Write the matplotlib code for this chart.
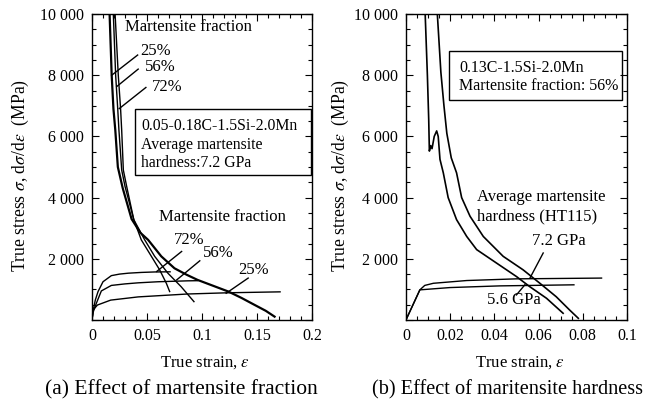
import matplotlib
matplotlib.use('Agg')
import matplotlib.pyplot as plt
from matplotlib.patches import Rectangle
from matplotlib.ticker import MultipleLocator, FuncFormatter

plt.rcParams['font.family'] = ['Liberation Serif', 'DejaVu Serif']
plt.rcParams['mathtext.fontset'] = 'stix'

# --- (a) martensite fraction: flow curves
a72_x = [0, 0.001, 0.003, 0.0055, 0.010, 0.0176, 0.025, 0.033, 0.045, 0.057, 0.071]
a72_y = [0, 300, 650, 930, 1250, 1450, 1500, 1530, 1555, 1570, 1575]
a56_x = [0, 0.001, 0.004, 0.0085, 0.0176, 0.03, 0.042, 0.06, 0.087, 0.096]
a56_y = [0, 250, 550, 950, 1130, 1180, 1215, 1250, 1280, 1285]
a25_x = [0, 0.001, 0.005, 0.017, 0.042, 0.087, 0.124, 0.171]
a25_y = [0, 330, 490, 650, 755, 850, 890, 920]

# --- (a) work hardening rate dσ/dε
h25_x = [0.0160, 0.0179, 0.0195, 0.0212, 0.0235, 0.028, 0.036, 0.044, 0.051, 0.063, 0.075, 0.086, 0.096, 0.110, 0.124, 0.136, 0.148, 0.158, 0.166]
h25_y = [10000, 8000, 6900, 6200, 5000, 4300, 3300, 2850, 2620, 2080, 1690, 1480, 1310, 1120, 930, 720, 490, 300, 110]
h56_x = [0.0194, 0.0215, 0.0234, 0.0245, 0.027, 0.030, 0.038, 0.0479, 0.057, 0.069, 0.081, 0.0927]
h56_y = [10000, 8000, 6900, 6200, 4900, 4370, 3280, 2620, 2080, 1530, 1090, 600]
h72_x = [0.0210, 0.0239, 0.026, 0.027, 0.0285, 0.0315, 0.038, 0.0448, 0.054, 0.0615, 0.0676, 0.0706]
h72_y = [10000, 8000, 6900, 6200, 4900, 4370, 3280, 2620, 2080, 1640, 1200, 930]

# --- (b) martensite hardness: flow curves
b72_x = [0, 0.0063, 0.0085, 0.0124, 0.0275, 0.050, 0.0885]
b72_y = [0, 985, 1130, 1200, 1290, 1345, 1370]
b56_x = [0, 0.0063, 0.0199, 0.0425, 0.076]
b56_y = [0, 985, 1060, 1115, 1150]

# --- (b) work hardening rate
g56_x = [0.0087, 0.0097, 0.0103, 0.0106, 0.0112, 0.0118, 0.0128, 0.0139, 0.0146, 0.0154, 0.0169, 0.0191,
         0.0229, 0.0275, 0.032, 0.041, 0.050, 0.056, 0.0636, 0.0711]
g56_y = [10000, 8000, 6560, 5520, 5700, 5600, 6000, 6180, 6000, 5250, 4810, 4000,
         3280, 2730, 2300, 1860, 1420, 1090, 710, 220]
g72_x = [0.0142, 0.0158, 0.0172, 0.0185, 0.0205, 0.0229, 0.0252, 0.029, 0.035, 0.044, 0.053, 0.0606, 0.068, 0.074, 0.078]
g72_y = [10000, 8100, 7000, 6100, 5300, 4810, 4000, 3390, 2730, 2080, 1640, 1200, 760, 330, 55]

fig = plt.figure(figsize=(6.59, 4.01), dpi=100)
axa = fig.add_axes([0.1396, 0.202, 0.3338, 0.763])
axb = fig.add_axes([0.616, 0.202, 0.3354, 0.763])

lw = 1.0
for x, y in [(a72_x, a72_y), (a56_x, a56_y), (a25_x, a25_y),
             (h56_x, h56_y), (h72_x, h72_y)]:
    axa.plot(x, y, color='black', lw=lw)
axa.plot(h25_x, h25_y, color='black', lw=1.6)
for x, y in [(b72_x, b72_y), (b56_x, b56_y)]:
    axb.plot(x, y, color='black', lw=lw)
for x, y in [(g56_x, g56_y), (g72_x, g72_y)]:
    axb.plot(x, y, color='black', lw=1.2)

yfmt = FuncFormatter(lambda v, p: '' if v == 0 else '{:,.0f}'.format(v).replace(',', ' '))
xfmt = FuncFormatter(lambda v, p: '0' if v == 0 else ('%g' % round(v, 3)))

for ax, xmax, xmaj, xmin in [(axa, 0.2, 0.05, 0.01), (axb, 0.1, 0.02, 0.005)]:
    ax.set_xlim(0, xmax)
    ax.set_ylim(0, 10000)
    ax.xaxis.set_major_locator(MultipleLocator(xmaj))
    ax.xaxis.set_minor_locator(MultipleLocator(xmin))
    ax.yaxis.set_major_locator(MultipleLocator(2000))
    ax.yaxis.set_minor_locator(MultipleLocator(500))
    ax.yaxis.set_major_formatter(yfmt)
    ax.xaxis.set_major_formatter(xfmt)
    ax.tick_params(which='both', direction='in', top=True, right=True, labelsize=11.5, width=0.8)
    ax.tick_params(which='major', length=5, pad=6)
    ax.tick_params(which='minor', length=3)
    for s in ax.spines.values():
        s.set_linewidth(1.0)

# annotations, panel (a)
fs = 12
bfs = 11.3
axa.text(0.030, 9575, 'Martensite fraction', fontsize=fs, va='center')
axa.text(0.0436, 8790, '25%', fontsize=fs, va='center')
axa.text(0.048, 8260, '56%', fontsize=fs, va='center')
axa.text(0.054, 7600, '72%', fontsize=fs, va='center')
axa.plot([0.0415, 0.0179], [8660, 8000], color='black', lw=1.0)
axa.plot([0.042, 0.0225], [8200, 7630], color='black', lw=1.0)
axa.plot([0.049, 0.0248], [7600, 6910], color='black', lw=1.0)

axa.add_patch(Rectangle((0.039, 4755), 0.1605, 2131, fill=False, lw=1.0, edgecolor='black'))
axa.text(0.045, 6330, '0.05-0.18C-1.5Si-2.0Mn', fontsize=bfs, va='center')
axa.text(0.045, 5710, 'Average martensite', fontsize=bfs, va='center')
axa.text(0.045, 5130, 'hardness:7.2 GPa', fontsize=bfs, va='center')

axa.text(0.0612, 3370, 'Martensite fraction', fontsize=fs, va='center')
axa.text(0.074, 2620, '72%', fontsize=fs, va='center')
axa.text(0.101, 2190, '56%', fontsize=fs, va='center')
axa.text(0.133, 1640, '25%', fontsize=fs, va='center')
axa.plot([0.0815, 0.0588], [2240, 1585], color='black', lw=1.0)
axa.plot([0.098, 0.077], [1935, 1310], color='black', lw=1.0)
axa.plot([0.142, 0.122], [1370, 875], color='black', lw=1.0)

# annotations, panel (b)
axb.add_patch(Rectangle((0.0196, 7190), 0.078, 1610, fill=False, lw=1.0, edgecolor='black'))
axb.text(0.0241, 8250, '0.13C-1.5Si-2.0Mn', fontsize=bfs + 0.2, va='center')
axb.text(0.0241, 7650, 'Martensite fraction: 56%', fontsize=bfs + 0.2, va='center')
axb.text(0.032, 4030, 'Average martensite', fontsize=fs, va='center')
axb.text(0.032, 3380, 'hardness (HT115)', fontsize=fs, va='center')
axb.text(0.0569, 2570, '7.2 GPa', fontsize=fs, va='center')
axb.text(0.0365, 655, '5.6 GPa', fontsize=fs, va='center')
axb.plot([0.0621, 0.0561], [2190, 1370], color='black', lw=1.0)
axb.plot([0.0538, 0.050], [1150, 820], color='black', lw=1.0)

ylab = r'True stress $\sigma$, d$\sigma$/d$\varepsilon$  (MPa)'
fig.text(20 / 659, 1 - 175 / 401, ylab, rotation=90, ha='center', va='center', fontsize=12.7)
fig.text(340 / 659, 1 - 175 / 401, ylab, rotation=90, ha='center', va='center', fontsize=12.7)
fig.text(205 / 659, 1 - 363 / 401, r'True strain, $\varepsilon$', ha='center', va='center', fontsize=12)
fig.text(520 / 659, 1 - 363 / 401, r'True strain, $\varepsilon$', ha='center', va='center', fontsize=12)
fig.text(181 / 659, 1 - 390 / 401, '(a) Effect of martensite fraction', ha='center', va='center', fontsize=15.5)
fig.text(508 / 659, 1 - 390 / 401, '(b) Effect of maritensite hardness', ha='center', va='center', fontsize=14.6)

fig.savefig('out.png', dpi=100)
